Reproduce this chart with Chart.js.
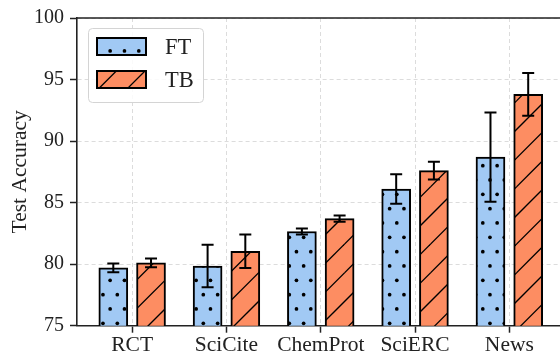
<!DOCTYPE html>
<html>
<head>
<meta charset="utf-8">
<script src="https://cdn.jsdelivr.net/npm/chart.js@4"></script>
<style>
  html, body { margin: 0; padding: 0; background: #fff; overflow: hidden; }
  #wrap { width: 572px; height: 354px; }
</style>
</head>
<body>
<div id="wrap"><canvas id="accChart" width="572" height="354"></canvas></div>
<script>
// mean test accuracy and std per dataset
const categories = ['RCT', 'SciCite', 'ChemProt', 'SciERC', 'News'];
const ftMean = [79.7, 79.85, 82.65, 86.1, 88.7];
const ftErr = [0.35, 1.72, 0.25, 1.2, 3.62];
const tbMean = [80.1, 81.05, 83.7, 87.6, 93.8];
const tbErr = [0.35, 1.36, 0.25, 0.73, 1.74];
const yTicks = [75, 80, 85, 90, 95, 100];

const FONT = "'Liberation Serif', 'DejaVu Serif', serif";
const BLUE = '#a1c9f4';
const ORANGE = '#fd8d62';

// '.' hatch: staggered dots, global phase since patterns anchor at canvas origin
function dotPattern(bg) {
    const c = document.createElement('canvas');
    c.width = 43; c.height = 86;
    const g = c.getContext('2d');
    g.fillStyle = bg;
    g.fillRect(0, 0, 43, 86);
    g.fillStyle = '#000';
    const s = 43 / 3;
    const dot = (x, y) => { g.beginPath(); g.arc(x, y, 1.85, 0, Math.PI * 2); g.fill(); };
    for (let i = -1; i <= 3; i++) {
        for (let j = -1; j <= 3; j++) {
            dot(9.8 + i * s, 22.3 + j * 2 * s);
            dot(9.8 + s / 2 + i * s, 22.3 - s + j * 2 * s);
        }
    }
    return g.createPattern(c, 'repeat');
}

// '/' hatch
function slashPattern(bg) {
    const c = document.createElement('canvas');
    c.width = 86; c.height = 86;
    const g = c.getContext('2d');
    g.fillStyle = bg;
    g.fillRect(0, 0, 86, 86);
    g.strokeStyle = '#000';
    g.lineWidth = 1.3;
    const p = 86 / 3;
    for (let k = -4; k <= 10; k++) {
        const d = 15.3 + k * p;
        g.beginPath();
        g.moveTo(d + 20, -20);
        g.lineTo(d - 120, 120);
        g.stroke();
    }
    return g.createPattern(c, 'repeat');
}

const ftFill = dotPattern(BLUE);
const tbFill = slashPattern(ORANGE);

const errorBars = {
    id: 'errorBars',
    afterDatasetsDraw(chart) {
        const { ctx, scales: { y } } = chart;
        ctx.save();
        ctx.strokeStyle = '#000';
        ctx.lineWidth = 2;
        chart.data.datasets.forEach((ds, di) => {
            chart.getDatasetMeta(di).data.forEach((bar, i) => {
                const v = ds.data[i].y, e = ds.errors[i];
                const t = y.getPixelForValue(v + e);
                const b = y.getPixelForValue(v - e);
                const x = bar.x;
                ctx.beginPath();
                ctx.moveTo(x, t); ctx.lineTo(x, b);
                ctx.moveTo(x - 6, t); ctx.lineTo(x + 6, t);
                ctx.moveTo(x - 6, b); ctx.lineTo(x + 6, b);
                ctx.stroke();
            });
        });
        ctx.restore();
    }
};

// top spine + framed legend inside the plot
const frameAndLegend = {
    id: 'frameAndLegend',
    afterDraw(chart) {
        const { ctx, chartArea: a } = chart;
        ctx.save();
        ctx.strokeStyle = '#222';
        ctx.lineWidth = 1.6;
        ctx.beginPath();
        ctx.moveTo(a.left - 0.8, a.top);
        ctx.lineTo(a.right, a.top);
        ctx.stroke();

        const bx = 88.5, by = 28.5, bw = 115, bh = 74;
        ctx.beginPath();
        ctx.roundRect(bx, by, bw, bh, 4);
        ctx.fillStyle = 'rgba(255,255,255,0.85)';
        ctx.fill();
        ctx.strokeStyle = '#d4d4d4';
        ctx.lineWidth = 1;
        ctx.stroke();

        ctx.font = '22.5px ' + FONT;
        ctx.textBaseline = 'middle';
        ctx.textAlign = 'left';
        chart.data.datasets.forEach((ds, i) => {
            const py = 38 + i * 33;
            ctx.fillStyle = ds.backgroundColor;
            ctx.fillRect(97, py, 49, 17);
            ctx.strokeStyle = '#000';
            ctx.lineWidth = 2;
            ctx.strokeRect(97, py, 49, 17);
            ctx.fillStyle = '#222';
            ctx.fillText(ds.label, 165, py + 10);
        });
        ctx.restore();
    }
};

const gridStyle = {
    color: '#dcdcdc',
    lineWidth: 1,
    tickColor: '#222',
    tickLength: 7,
    tickWidth: 1.5,
    offset: false
};
const borderStyle = { color: '#222', width: 1.6, dash: [4, 3] };

new Chart(document.getElementById('accChart'), {
    type: 'bar',
    data: {
        datasets: [
            {
                label: 'FT',
                data: ftMean.map((v, i) => ({ x: i - 0.2, y: v })),
                errors: ftErr,
                backgroundColor: ftFill,
                borderColor: '#000',
                borderWidth: 2,
                barThickness: 29,
                grouped: false
            },
            {
                label: 'TB',
                data: tbMean.map((v, i) => ({ x: i + 0.2, y: v })),
                errors: tbErr,
                backgroundColor: tbFill,
                borderColor: '#000',
                borderWidth: 2,
                barThickness: 29,
                grouped: false
            }
        ]
    },
    options: {
        responsive: false,
        animation: false,
        layout: { padding: { top: 16, right: 7.5, left: 0, bottom: 0 } },
        plugins: {
            legend: { display: false },
            tooltip: { enabled: false }
        },
        scales: {
            x: {
                type: 'linear',
                offset: false,
                min: -0.585,
                max: 4.585,
                afterBuildTicks: scale => { scale.ticks = categories.map((_, i) => ({ value: i })); },
                afterFit: scale => { scale.height = 28.3; },
                ticks: {
                    callback: v => categories[Math.round(v)],
                    font: { family: FONT, size: 21.5 },
                    color: '#222',
                    padding: 0,
                    maxRotation: 0
                },
                grid: gridStyle,
                border: borderStyle
            },
            y: {
                min: yTicks[0],
                max: yTicks[yTicks.length - 1],
                afterBuildTicks: scale => { scale.ticks = yTicks.map(v => ({ value: v })); },
                afterFit: scale => { scale.width = 77; },
                ticks: {
                    font: { family: FONT, size: 20 },
                    color: '#222',
                    padding: 6
                },
                title: {
                    display: true,
                    text: 'Test Accuracy',
                    font: { family: FONT, size: 21.5 },
                    color: '#222',
                    padding: { top: 7.5, bottom: 0 }
                },
                grid: gridStyle,
                border: borderStyle
            }
        }
    },
    plugins: [errorBars, frameAndLegend]
});
</script>
</body>
</html>
